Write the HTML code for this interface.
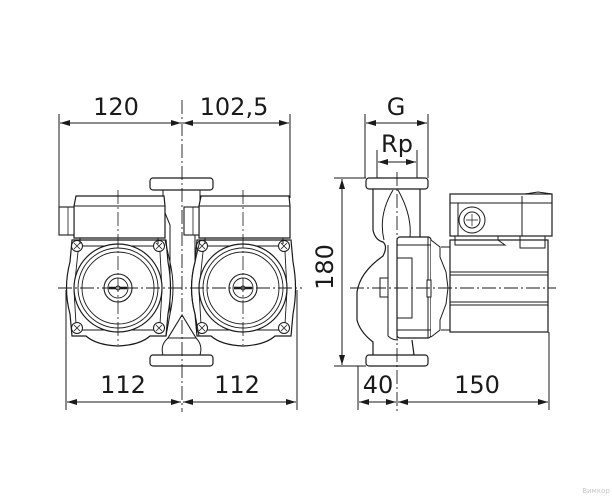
<!DOCTYPE html>
<html><head><meta charset="utf-8"><style>
html,body{margin:0;padding:0;background:#fff}
svg{display:block}
text{font-family:"DejaVu Sans","Liberation Sans",sans-serif;fill:#1a1a1a}
</style></head><body>
<svg width="612" height="500" viewBox="0 0 612 500" xmlns="http://www.w3.org/2000/svg">
<defs>
<marker id="a" viewBox="0 0 10 6" refX="10" refY="3" markerWidth="10" markerHeight="6" orient="auto-start-reverse" markerUnits="userSpaceOnUse"><path d="M0,0 L10,3 L0,6 Z" fill="#1a1a1a"/></marker>
<g id="pump">
 <path d="M72,240 L166,240 L168,262 Q173,288 168,314 L166,336 L150,336 Q140,345 118,346 Q96,345 86,336 L72,336 L70,314 Q63,288 70,262 Z" fill="#fff" stroke="#1a1a1a" stroke-width="1.2"/>
 <path d="M78,252 L82,246 L154,246 L160,252 L162,290 L160,324 L154,330 L82,330 L76,324 L74,290 Z" fill="none" stroke="#1a1a1a" stroke-width="0.9"/>
 <circle cx="118" cy="288" r="44" fill="#fff" stroke="#1a1a1a" stroke-width="1.2"/>
 <circle cx="118" cy="288" r="40" fill="none" stroke="#1a1a1a" stroke-width="0.9"/>
 <circle cx="118" cy="288" r="36" fill="none" stroke="#1a1a1a" stroke-width="0.9"/>
 <circle cx="118" cy="288" r="14" fill="none" stroke="#1a1a1a" stroke-width="1.1"/>
 <circle cx="118" cy="288" r="10" fill="none" stroke="#1a1a1a" stroke-width="0.9"/>
 <line x1="109" y1="288" x2="127" y2="288" stroke="#1a1a1a" stroke-width="2.4"/>
 <circle cx="118" cy="288" r="2" fill="#fff" stroke="#1a1a1a"/>
 <g fill="#fff" stroke="#1a1a1a" stroke-width="1">
  <circle cx="77" cy="246" r="5.5"/><circle cx="159" cy="246" r="5.5"/>
  <circle cx="77" cy="328" r="5.5"/><circle cx="159" cy="328" r="5.5"/>
 </g>
 <g stroke="#1a1a1a" stroke-width="0.8">
  <path d="M74,243 L80,249 M80,243 L74,249 M156,243 L162,249 M162,243 L156,249 M74,325 L80,331 M80,325 L74,331 M156,325 L162,331 M162,325 L156,331"/>
 </g>
 <path d="M80,238 L80,244 M158,238 L158,244" stroke="#1a1a1a"/>
 <path d="M74,206 L76,196 L164,196 L165,206 L165,238 L74,238 Z" fill="#fff" stroke="#1a1a1a" stroke-width="1.2"/>
 <line x1="74" y1="206" x2="165" y2="206" stroke="#1a1a1a"/>
 <rect x="59" y="207" width="15" height="28" fill="#fff" stroke="#1a1a1a" stroke-width="1.1"/>
 <line x1="68" y1="207" x2="68" y2="235" stroke="#1a1a1a" stroke-width="0.8"/>
</g>
</defs>

<g stroke="#1a1a1a" stroke-width="1" fill="none">
 <!-- left view -->
 <rect x="150" y="178" width="63" height="12" rx="3" fill="#fff" stroke-width="1.2"/>
 <path d="M163,190 L163,208 L170,225 L170,315 M200,190 L200,208 L195,225 L195,315" />
 <rect x="150" y="355" width="63" height="11" rx="3" fill="#fff" stroke-width="1.2"/>
 <path d="M163,355 Q160,345 168,338 M200,355 Q203,345 196,338"/>
 <use href="#pump"/>
 <use href="#pump" transform="translate(125,0)"/>
 <path d="M182,315 L168,338 L196,338 Z" fill="#fff" stroke-width="1.1"/>
 <path d="M165,240 L170,262 Q176,288 170,314 L166,336" />
 <path d="M200,240 L195,262 Q188,288 195,314 L199,336" />
 <!-- centerlines -->
 <line x1="182" y1="100" x2="182" y2="412" stroke-dasharray="14,3,2,3" stroke-width="0.9"/>
 <line x1="58" y1="288" x2="302" y2="288" stroke-dasharray="14,3,2,3" stroke-width="0.9"/>
 <line x1="118" y1="190" x2="118" y2="345" stroke-dasharray="14,3,2,3" stroke-width="0.8"/>
 <line x1="243" y1="190" x2="243" y2="345" stroke-dasharray="14,3,2,3" stroke-width="0.8"/>
 <!-- extension lines -->
 <line x1="59" y1="114" x2="59" y2="222"/>
 <line x1="290" y1="114" x2="290" y2="198"/>
 <line x1="66" y1="290" x2="66" y2="410"/>
 <line x1="297" y1="290" x2="297" y2="410"/>
 <!-- dim lines -->
 <line x1="60" y1="123" x2="181" y2="123" marker-start="url(#a)" marker-end="url(#a)"/>
 <line x1="183" y1="123" x2="289" y2="123" marker-start="url(#a)" marker-end="url(#a)"/>
 <line x1="67" y1="402" x2="181" y2="402" marker-start="url(#a)" marker-end="url(#a)"/>
 <line x1="183" y1="402" x2="296" y2="402" marker-start="url(#a)" marker-end="url(#a)"/>

 <!-- right view -->
 <rect x="366" y="178" width="62" height="11" rx="3" fill="#fff" stroke-width="1.2"/>
 <rect x="366" y="355" width="62" height="11" rx="3" fill="#fff" stroke-width="1.2"/>
 <path d="M373,189 L373,230 Q375,240 383,242 Q388,246 383,256 Q360,272 357,292 L357,320 Q360,332 373,342 L373,355" stroke-width="1.2"/>
 <path d="M420,189 L420,237 M412,340 L414,355" stroke-width="1.2"/>
 <path d="M393,190 Q378,215 384,240 M398,190 Q412,215 410,237"/>
 <line x1="388" y1="245" x2="388" y2="336"/>
 <rect x="380" y="278" width="8" height="19" fill="#fff"/>
 <path d="M388,336 Q392,340 398,340"/>
 <rect x="397" y="237" width="34" height="101" rx="3" fill="#fff" stroke-width="1.2"/>
 <line x1="397" y1="245" x2="431" y2="245"/>
 <line x1="397" y1="330" x2="431" y2="330"/>
 <rect x="397" y="258" width="15" height="60"/>
 <line x1="428" y1="237" x2="428" y2="338"/>
 <path d="M431,240 L440,247 L440,257 L446,272 L448,288 L446,304 L440,320 L440,330 L431,337" fill="#fff"/>
 <rect x="427" y="280" width="4" height="17" fill="#fff"/>
 <path d="M441,247 L450,247 M441,330 L450,330"/>
 <rect x="450" y="240" width="98" height="92" fill="#fff" stroke-width="1.2"/>
 <path d="M450,272 L548,272 M450,275 L548,275 M450,302 L548,302 M450,305 L548,305"/>
 <path d="M455,235 L455,245 L505,245 L498,240 L498,235 M520,235 L520,248 L545,248 L545,235"/>
 <rect x="450" y="194" width="102" height="42" fill="#fff" stroke-width="1.2"/>
 <line x1="450" y1="203" x2="552" y2="203"/>
 <line x1="522" y1="196" x2="522" y2="236"/>
 <line x1="458" y1="203" x2="458" y2="236"/>
 <path d="M525,194 L538,192 L552,194"/>
 <circle cx="472" cy="220" r="13" fill="#fff"/>
 <circle cx="472" cy="220" r="8"/>
 <path d="M472,214 L472,226 M466,220 L478,220" stroke-width="0.7"/>
 <!-- centerlines -->
 <line x1="397" y1="172" x2="397" y2="412" stroke-dasharray="14,3,2,3" stroke-width="0.9"/>
 <line x1="350" y1="288" x2="556" y2="288" stroke-dasharray="14,3,2,3" stroke-width="0.9"/>
 <!-- extension lines -->
 <line x1="365" y1="114" x2="365" y2="178"/>
 <line x1="428" y1="114" x2="428" y2="178"/>
 <line x1="377" y1="150" x2="377" y2="178"/>
 <line x1="417" y1="150" x2="417" y2="178"/>
 <line x1="334" y1="178" x2="366" y2="178"/>
 <line x1="334" y1="366" x2="366" y2="366"/>
 <line x1="358" y1="366" x2="358" y2="410"/>
 <line x1="549" y1="332" x2="549" y2="410"/>
 <!-- dims -->
 <line x1="366" y1="123" x2="427" y2="123" marker-start="url(#a)" marker-end="url(#a)"/>
 <line x1="378" y1="162" x2="416" y2="162" marker-start="url(#a)" marker-end="url(#a)"/>
 <line x1="342" y1="179" x2="342" y2="365" marker-start="url(#a)" marker-end="url(#a)"/>
 <line x1="359" y1="402" x2="396" y2="402" marker-start="url(#a)" marker-end="url(#a)"/>
 <line x1="398" y1="402" x2="548" y2="402" marker-start="url(#a)" marker-end="url(#a)"/>
</g>

<g font-size="24" text-anchor="middle">
 <text x="116" y="115">120</text>
 <text x="234" y="115">102,5</text>
 <text x="123" y="393">112</text>
 <text x="237" y="393">112</text>
 <text x="396" y="115">G</text>
 <text x="397" y="152">Rp</text>
 <text x="378" y="393">40</text>
 <text x="477" y="393">150</text>
 <text transform="translate(333,267) rotate(-90)">180</text>
</g>
<text x="596" y="493" font-size="7" text-anchor="middle" style="fill:#c8c8c8">Вимкор</text>
</svg>
</body></html>
